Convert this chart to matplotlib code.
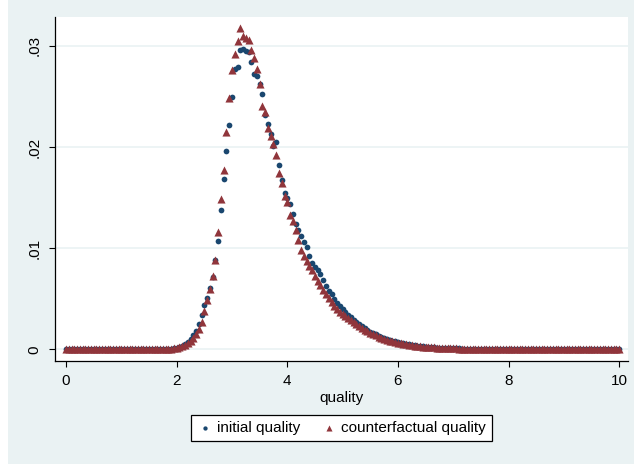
import numpy as np
import matplotlib
matplotlib.use("Agg")
import matplotlib.pyplot as plt
from matplotlib.patches import Rectangle

plt.rcParams['font.family'] = ['Liberation Sans', 'DejaVu Sans']

# density of each quality level, one row = 0.5 units of quality
initial = [
    0, 0, 0, 0, 0, 0, 0, 0, 0, 0,
    0, 0, 0, 0, 0, 0, 0, 0, 0, 0,
    0, 0, 0, 0, 0, 0, 0, 0, 0, 0,
    0, 0, 0, 0, 0, 0, 0.00002, 0.00004, 0.00006, 0.0001,
    0.00015, 0.0002, 0.0003, 0.0005, 0.0007, 0.0010, 0.0014, 0.0018, 0.0025, 0.0034,
    0.0044, 0.0051, 0.0061, 0.0072, 0.0088, 0.0107, 0.0138, 0.0168, 0.0196, 0.0222,
    0.0249, 0.0277, 0.0279, 0.0296, 0.0297, 0.0295, 0.0294, 0.0284, 0.0272, 0.0270,
    0.0262, 0.0252, 0.0232, 0.0223, 0.0213, 0.0201, 0.0205, 0.0182, 0.0167, 0.0155,
    0.0150, 0.0144, 0.0134, 0.0124, 0.0118, 0.0112, 0.0106, 0.0101, 0.0092, 0.0085,
    0.0081, 0.0078, 0.0075, 0.0069, 0.0063, 0.0058, 0.0055, 0.0050, 0.0046, 0.0043,
    0.0040, 0.0037, 0.0034, 0.0032, 0.0029, 0.0027, 0.0025, 0.0023, 0.0021, 0.0019,
    0.0017, 0.0016, 0.0015, 0.0013, 0.0012, 0.0011, 0.0010, 0.0009, 0.0008, 0.0008,
    0.0007, 0.0006, 0.0006, 0.0005, 0.0005, 0.0004, 0.0004, 0.0003, 0.0003, 0.0003,
    0.0002, 0.0002, 0.0002, 0.0002, 0.0001, 0.0001, 0.0001, 0.0001, 0.0001, 0.0001,
    0.0001, 0.0001, 0.0001, 0.00008, 0.00008, 0.00006, 0.00006, 0.00005, 0.00005, 0.00005,
    0.00004, 0.00004, 0.00004, 0.00004, 0.00004, 0.00003, 0.00003, 0.00003, 0.00003, 0.00003,
    0.00003, 0.00002, 0.00002, 0.00002, 0.00002, 0.00002, 0.00002, 0.00001, 0.00001, 0.00001,
    0.00001, 0.00001, 0.00001, 0.00001, 0.00001, 0, 0, 0, 0, 0,
    0, 0, 0, 0, 0, 0, 0, 0, 0, 0,
    0, 0, 0, 0, 0, 0, 0, 0, 0, 0,
    0,
]

counterfactual = [
    0, 0, 0, 0, 0, 0, 0, 0, 0, 0,
    0, 0, 0, 0, 0, 0, 0, 0, 0, 0,
    0, 0, 0, 0, 0, 0, 0, 0, 0, 0,
    0, 0, 0, 0, 0, 0, 0.00003, 0.00005, 0.00008, 0.00012,
    0.00018, 0.00025, 0.0003, 0.0004, 0.0006, 0.0008, 0.0011, 0.0015, 0.0020, 0.0027,
    0.0038, 0.0049, 0.0060, 0.0073, 0.0088, 0.0116, 0.0149, 0.0177, 0.0215, 0.0248,
    0.0276, 0.0292, 0.0305, 0.0318, 0.0310, 0.0308, 0.0306, 0.0296, 0.0288, 0.0277,
    0.0262, 0.0240, 0.0235, 0.0219, 0.0211, 0.0203, 0.0192, 0.0174, 0.0164, 0.0152,
    0.0146, 0.0133, 0.0127, 0.0118, 0.0108, 0.0098, 0.0092, 0.0087, 0.0082, 0.0078,
    0.0073, 0.0068, 0.0064, 0.0059, 0.0055, 0.0051, 0.0047, 0.0043, 0.0040, 0.0037,
    0.0035, 0.0033, 0.0031, 0.0029, 0.0027, 0.0025, 0.0023, 0.0021, 0.0019, 0.0018,
    0.0016, 0.0015, 0.0014, 0.0012, 0.0011, 0.0010, 0.0009, 0.0008, 0.0008, 0.0007,
    0.0006, 0.0006, 0.0005, 0.0005, 0.0004, 0.0004, 0.0003, 0.0003, 0.0003, 0.0002,
    0.0002, 0.0002, 0.0002, 0.0002, 0.0001, 0.0001, 0.0001, 0.0001, 0.0001, 0.0001,
    0.0001, 0.0001, 0.00008, 0.00008, 0.00007, 0.00006, 0.00006, 0.00005, 0.00005, 0.00004,
    0.00004, 0.00004, 0.00004, 0.00003, 0.00003, 0.00003, 0.00003, 0.00003, 0.00002, 0.00002,
    0.00002, 0.00002, 0.00002, 0.00002, 0.00001, 0.00001, 0.00001, 0.00001, 0.00001, 0.00001,
    0.00001, 0.00001, 0.00001, 0, 0, 0, 0, 0, 0, 0,
    0, 0, 0, 0, 0, 0, 0, 0, 0, 0,
    0, 0, 0, 0, 0, 0, 0, 0, 0, 0,
    0,
]

quality = np.linspace(0, 10, len(initial))

xticks = [0, 2, 4, 6, 8, 10]
yticks = [0, 0.01, 0.02, 0.03]
ylabels = ["0", ".01", ".02", ".03"]

navy = "#1a476f"
maroon = "#90353b"
bg = "#eaf2f3"

fig = plt.figure(figsize=(6.34, 4.65), dpi=100)
fig.patch.set_facecolor("white")
fig.patches.append(Rectangle((8 / 634, 1 / 465), 1, 1, transform=fig.transFigure,
                             facecolor=bg, edgecolor="none", zorder=-10))

ax = fig.add_axes([55 / 634, 104 / 465, 573 / 634, 344 / 465])
ax.set_facecolor("white")

ax.scatter(quality, initial, s=17, marker="o", color=navy, linewidths=0,
           label="initial quality", zorder=3)
ax.scatter(quality, counterfactual, s=34, marker="^", color=maroon, linewidths=0,
           label="counterfactual quality", zorder=4)

ax.set_xlim(-0.2, 10.16)
ax.set_ylim(-0.00114, 0.03284)
ax.set_xticks(xticks)
ax.set_xticklabels([str(t) for t in xticks], fontsize=11)
ax.set_yticks(yticks)
ax.set_yticklabels(ylabels, fontsize=11, rotation=90, va="center")
ax.tick_params(axis="both", direction="out", length=4.5, width=0.8, pad=5, colors="black")

ax.grid(axis="y", color=bg, linewidth=1.2, zorder=0)
ax.set_axisbelow(True)

for side in ["top", "right"]:
    ax.spines[side].set_visible(False)
for side in ["left", "bottom"]:
    ax.spines[side].set_color("black")
    ax.spines[side].set_linewidth(0.9)

ax.set_xlabel("quality", fontsize=11, labelpad=2)

leg = ax.legend(loc="center", bbox_to_anchor=(341.5 / 634, 37 / 465),
                bbox_transform=fig.transFigure, ncol=2, fontsize=11,
                frameon=True, fancybox=False, edgecolor="black", framealpha=1,
                handletextpad=0.3, columnspacing=1.4, handlelength=1.0,
                borderpad=0.4, scatterpoints=1, markerscale=0.75)
leg.get_frame().set_linewidth(0.9)

fig.savefig("out.png", dpi=100, facecolor=fig.get_facecolor())
